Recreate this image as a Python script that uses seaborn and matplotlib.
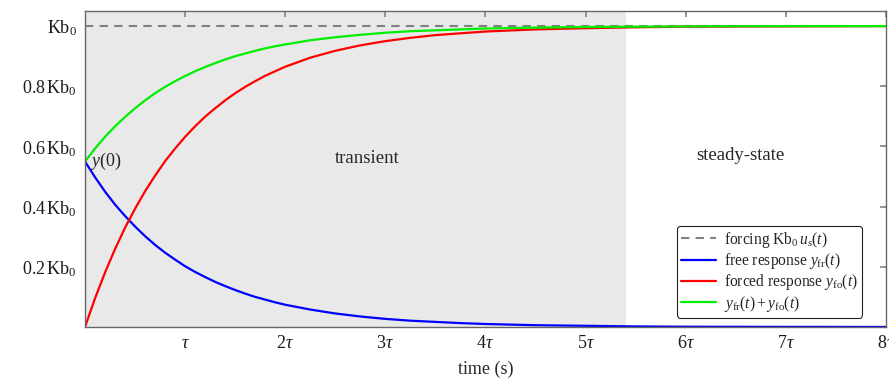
import numpy as np
import pandas as pd
import seaborn as sns
import matplotlib
matplotlib.use("Agg")
import matplotlib.pyplot as plt

# values (time in units of tau, response in units of Kb0)
t_tau = [0, 0.1, 0.2, 0.3, 0.4, 0.5, 0.6, 0.7, 0.8, 0.9, 1.0, 1.1, 1.2, 1.3, 1.4,
         1.5, 1.6, 1.7, 1.8, 1.9, 2.0, 2.25, 2.5, 2.75, 3.0, 3.25, 3.5, 3.75, 4.0,
         4.5, 5.0, 5.5, 6.0, 7.0, 8.0]
free_resp = [0.550, 0.498, 0.450, 0.407, 0.369, 0.334, 0.302, 0.273, 0.247, 0.224,
             0.202, 0.183, 0.166, 0.150, 0.136, 0.123, 0.111, 0.100, 0.091, 0.082,
             0.074, 0.058, 0.045, 0.035, 0.027, 0.021, 0.017, 0.013, 0.010,
             0.006, 0.004, 0.002, 0.001, 0.0005, 0.0002]
forced_resp = [0.0, 0.095, 0.181, 0.259, 0.330, 0.393, 0.451, 0.503, 0.551, 0.593,
               0.632, 0.667, 0.699, 0.727, 0.753, 0.777, 0.798, 0.817, 0.835, 0.850,
               0.865, 0.895, 0.918, 0.936, 0.950, 0.961, 0.970, 0.976, 0.982,
               0.989, 0.993, 0.996, 0.998, 0.999, 1.0]
total_resp = [0.550, 0.593, 0.632, 0.667, 0.698, 0.727, 0.753, 0.777, 0.798, 0.817,
              0.834, 0.850, 0.864, 0.877, 0.889, 0.900, 0.909, 0.918, 0.926, 0.933,
              0.939, 0.953, 0.963, 0.971, 0.978, 0.983, 0.986, 0.989, 0.992,
              0.995, 0.997, 0.998, 0.999, 1.0, 1.0]
forcing_t = [0, 8]
forcing = [1.0, 1.0]
transient_end = 5.4

x_ticks = [1, 2, 3, 4, 5, 6, 7, 8]
x_labels = [r"$\tau$"] + [r"$%d\tau$" % i for i in range(2, 9)]
y_ticks = [0.2, 0.4, 0.6, 0.8, 1.0]
y_labels = [r"$0.2\,\mathrm{Kb}_0$", r"$0.4\,\mathrm{Kb}_0$", r"$0.6\,\mathrm{Kb}_0$",
            r"$0.8\,\mathrm{Kb}_0$", r"$\mathrm{Kb}_0$"]

sns.set_theme(style="white")
plt.rcParams["font.family"] = ["Liberation Serif", "DejaVu Serif"]
plt.rcParams["mathtext.fontset"] = "custom"
plt.rcParams["mathtext.rm"] = "Liberation Serif"
plt.rcParams["mathtext.it"] = "Liberation Serif:italic"
plt.rcParams["mathtext.cal"] = "Liberation Serif:italic"

df = pd.DataFrame({"t": t_tau, "free": free_resp, "forced": forced_resp, "total": total_resp})

fig = plt.figure(figsize=(8.89, 3.81), dpi=100)
ax = fig.add_axes([0.0956, 0.1417, 0.901, 0.8293])

ax.axvspan(0, transient_end, color="#e9e9e9", lw=0, zorder=0)

sns.lineplot(x=forcing_t, y=forcing, ax=ax, color="#808080", lw=1.5,
             linestyle=(0, (4, 3)), label=r"forcing $\mathrm{Kb}_0\,u_s(t)$")
sns.lineplot(data=df, x="t", y="free", ax=ax, color="#0000ff", lw=1.6,
             label=r"free response $y_{\mathrm{fr}}(t)$")
sns.lineplot(data=df, x="t", y="forced", ax=ax, color="#ff0000", lw=1.6,
             label=r"forced response $y_{\mathrm{fo}}(t)$")
sns.lineplot(data=df, x="t", y="total", ax=ax, color="#00ee00", lw=1.6,
             label=r"$y_{\mathrm{fr}}(t)+y_{\mathrm{fo}}(t)$")

ax.set_xlim(0, 8)
ax.set_ylim(0, 1.05)
ax.set_xticks(x_ticks)
ax.set_xticklabels(x_labels, fontsize=13)
ax.set_yticks(y_ticks)
ax.set_yticklabels(y_labels, fontsize=13)
ax.tick_params(direction="in", length=4, color="#888888", top=True, right=True,
               labelcolor="#1a1a1a", pad=6)
for s in ax.spines.values():
    s.set_color("#666666")
    s.set_linewidth(1.0)
ax.set_xlabel("time (s)", fontsize=13, labelpad=6)
ax.set_ylabel("")

ax.text(2.82, 0.56, "transient", fontsize=13.5, ha="center", va="center")
ax.text(6.55, 0.57, "steady-state", fontsize=13.5, ha="center", va="center")
ax.text(0.05, 0.55, r"$y(0)$", fontsize=13, ha="left", va="center")

leg = ax.legend(loc="lower right", bbox_to_anchor=(0.97, 0.03), fontsize=11.2,
                frameon=True, fancybox=True, handlelength=2.3, borderpad=0.25,
                labelspacing=0.08, handletextpad=0.5, borderaxespad=0)
leg.get_frame().set_edgecolor("#222222")
leg.get_frame().set_linewidth(0.8)
leg.get_frame().set_alpha(1)

plt.savefig("out.png", dpi=100)
